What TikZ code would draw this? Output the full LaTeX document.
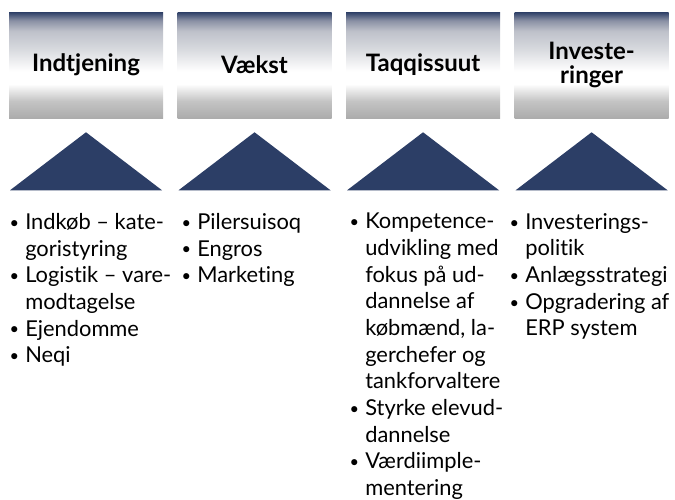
\documentclass[tikz,border=0pt]{standalone}
\usepackage{fontspec}
\setmainfont{Lato}[Ligatures=NoCommon]
\usepackage{tikz}
\usetikzlibrary{positioning}
\definecolor{hdNavy}{HTML}{2C3E66}
\definecolor{hdMid}{HTML}{8990A4}
\definecolor{hdPale}{HTML}{BEC1CA}
\definecolor{hdLight}{HTML}{D6D8DD}
\definecolor{hdGrey}{HTML}{C4C4C4}
\definecolor{hdDark}{HTML}{ACACAC}

% header fill: navy top edge, white band, grey foot
\pgfdeclareverticalshading{headfade}{100bp}{color(0bp)=(hdDark); color(25bp)=(hdDark); color(33bp)=(hdGrey); color(41bp)=(white); color(47bp)=(white); color(58bp)=(hdLight); color(66bp)=(hdPale); color(71bp)=(hdMid); color(75bp)=(hdNavy); color(100bp)=(hdNavy)}

\newcommand{\itm}[1]{\makebox[9.75pt][l]{\hspace{-2pt}\raisebox{0.8pt}{\scalebox{0.75}{\textbullet}}}#1}
\newcommand{\cnt}[1]{\hspace*{9.75pt}#1}

\begin{document}
\begin{tikzpicture}[
  x=0.75pt, y=0.75pt,
  node distance=10.5pt and 10.5pt,
  head/.style={rectangle, shading=headfade, minimum width=115.5pt, minimum height=79.5pt, inner sep=0pt, align=center, font=\fontsize{18}{17.3}\selectfont\bfseries},
  tri/.style={fill=hdNavy},
  items/.style={anchor=north west, inner sep=0pt, align=left, font=\fontsize{16.4}{20}\selectfont},
]
\useasboundingbox (0,0) rectangle (675,-500);

\node[head] at (86,-65) (h1) {Indtjening};
\node[head, right=of h1] (h2) {Vækst};
\node[head, right=of h2] (h3) {Taqqissuut};
\node[head, right=of h3] (h4) {Investe-\\ringer};

% arrows pointing up at each header
\foreach \c in {1,...,4}
  \fill[tri] ([yshift=-10.5pt]h\c.south) -- ++(57pt,-43.5pt) -- ++(-114pt,0pt) -- cycle;

\node[items] at (12,-213) (l1) {\itm{Indkøb – kate-}\\\cnt{goristyring}\\\itm{Logistik – vare-}\\\cnt{modtagelse}\\\itm{Ejendomme}\\\itm{Neqi}};
\node[items] at (184,-213) (l2) {\itm{Pilersuisoq}\\\itm{Engros}\\\itm{Marketing}};
\node[items] at (352,-213) (l3) {\itm{Kompetence-}\\\cnt{udvikling med}\\\cnt{fokus på ud-}\\\cnt{dannelse af}\\\cnt{købmænd, la-}\\\cnt{gerchefer og}\\\cnt{tankforvaltere}\\\itm{Styrke elevud-}\\\cnt{dannelse}\\\itm{Værdiimple-}\\\cnt{mentering}};
\node[items] at (512,-213) (l4) {\itm{Investerings-}\\\cnt{politik}\\\itm{Anlægsstrategi}\\\itm{Opgradering af}\\\cnt{ERP system}};

\end{tikzpicture}
\end{document}
